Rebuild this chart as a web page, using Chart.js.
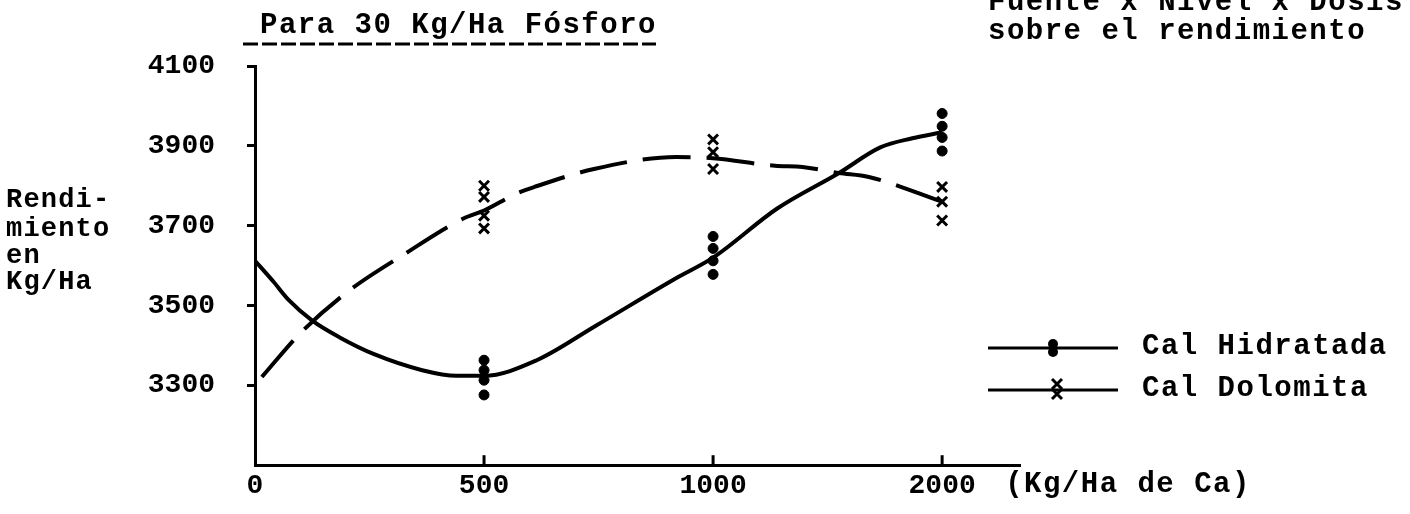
<!DOCTYPE html>
<html>
<head>
<meta charset="utf-8">
<script src="https://cdn.jsdelivr.net/npm/chart.js@4.4.1/dist/chart.umd.min.js"></script>
<style>
  html, body { margin: 0; padding: 0; background: #fff; }
  #wrap { width: 1410px; height: 514px; }
</style>
</head>
<body>
<div id="wrap"><canvas id="c" width="1410" height="514"></canvas></div>
<script>
// Dose levels (Kg/Ha de Ca), drawn at equal spacing on positions 0..3
const doseLabels = ['0', '500', '1000', '2000'];
const yTicks = [3300, 3500, 3700, 3900, 4100];

// Fitted response curve, Cal Hidratada (position on dose axis, yield)
const hidCurvePos = [0.00, 0.08, 0.15, 0.25, 0.37, 0.52, 0.73, 0.88, 1.00, 1.23, 1.49, 1.84, 2.00, 2.28, 2.55, 2.73, 2.87, 3.00];
const hidCurveVal = [3612, 3560, 3512, 3462, 3420, 3378, 3338, 3324, 3324, 3363, 3450, 3569, 3620, 3743, 3832, 3896, 3919, 3934];

// Fitted response curve, Cal Dolomita
const dolCurvePos = [0.03, 0.20, 0.41, 0.65, 0.91, 1.00, 1.14, 1.22, 1.48, 1.84, 2.00, 2.27, 2.39, 2.55, 2.68, 3.00];
const dolCurveVal = [3321, 3432, 3537, 3628, 3718, 3738, 3780, 3797, 3842, 3872, 3869, 3850, 3847, 3832, 3822, 3760];

// Observed yields per dose
const hidObs500 = [3363, 3338, 3313, 3276];
const hidObs1000 = [3673, 3643, 3612, 3578];
const hidObs2000 = [3981, 3949, 3921, 3887];
const dolObs500 = [3800, 3772, 3725, 3693];
const dolObs1000 = [3916, 3884, 3842];
const dolObs2000 = [3797, 3760, 3713];

const titleText = 'Para 30 Kg/Ha Fósforo';
const noteLines = ['Fuente x Nivel x Dosis', 'sobre el rendimiento'];
const yTitleLines = ['Rendi-', 'miento', 'en', 'Kg/Ha'];
const xUnitText = '(Kg/Ha de Ca)';

const FONT = '"Liberation Mono", "DejaVu Sans Mono", monospace';

function pairs(xs, ys) { return xs.map((x, i) => ({ x, y: ys[i] })); }
function obs(pos, vals) { return vals.map(v => ({ x: pos, y: v })); }

const hidPoints = [].concat(obs(1, hidObs500), obs(2, hidObs1000), obs(3, hidObs2000));
const dolPoints = [].concat(obs(1, dolObs500), obs(2, dolObs1000), obs(3, dolObs2000));

// Text, x-axis ticks and the legend drawn onto the canvas
const annotations = {
  id: 'annotations',
  afterDraw(chart) {
    const ctx = chart.ctx;
    const xs = chart.scales.x;
    const area = chart.chartArea;
    ctx.save();
    ctx.fillStyle = '#000';
    ctx.strokeStyle = '#000';
    ctx.textBaseline = 'middle';
    ctx.textAlign = 'left';

    // upward tick marks on the dose axis
    ctx.lineWidth = 3;
    for (let i = 1; i < doseLabels.length; i++) {
      const px = xs.getPixelForValue(i);
      ctx.beginPath();
      ctx.moveTo(px, area.bottom);
      ctx.lineTo(px, area.bottom - 10);
      ctx.stroke();
    }

    ctx.font = 'bold 29px ' + FONT;
    ctx.letterSpacing = '1.5px';

    // title with typed underline
    ctx.fillText(titleText, 260, 26);
    ctx.lineWidth = 3;
    ctx.setLineDash([15, 4]);
    ctx.beginPath();
    ctx.moveTo(243, 44);
    ctx.lineTo(656, 44);
    ctx.stroke();
    ctx.setLineDash([]);

    // note in the upper right
    ctx.fillText(noteLines[0], 988, 3);
    ctx.fillText(noteLines[1], 988, 32);

    // unit after the last dose label
    ctx.fillText(xUnitText, xs.getPixelForValue(3) + 63, 485);

    // y-axis title
    ctx.font = 'bold 27px ' + FONT;
    ctx.letterSpacing = '1.2px';
    const yRows = [200, 229, 256, 282];
    yTitleLines.forEach((t, i) => ctx.fillText(t, 6, yRows[i]));

    // legend
    ctx.font = 'bold 29px ' + FONT;
    ctx.letterSpacing = '1.5px';
    const rows = [{ y: 348, ds: 0 }, { y: 390, ds: 1 }];
    rows.forEach(r => {
      const ds = chart.data.datasets[r.ds];
      ctx.lineWidth = 3;
      ctx.beginPath();
      ctx.moveTo(988, r.y);
      ctx.lineTo(1118, r.y);
      ctx.stroke();
      if (r.ds === 0) {
        ctx.beginPath(); ctx.arc(1053, r.y - 4, 5, 0, Math.PI * 2); ctx.fill();
        ctx.beginPath(); ctx.arc(1053, r.y + 4, 5, 0, Math.PI * 2); ctx.fill();
      } else {
        ctx.lineWidth = 3;
        [-6, 4].forEach(dy => {
          ctx.beginPath();
          ctx.moveTo(1052, r.y + dy - 5); ctx.lineTo(1062, r.y + dy + 5);
          ctx.moveTo(1062, r.y + dy - 5); ctx.lineTo(1052, r.y + dy + 5);
          ctx.stroke();
        });
      }
      ctx.fillText(ds.label, 1142, r.y - 1);
    });
    ctx.restore();
  }
};

new Chart(document.getElementById('c'), {
  type: 'scatter',
  data: {
    datasets: [
      {
        label: 'Cal Hidratada',
        data: pairs(hidCurvePos, hidCurveVal),
        showLine: true,
        borderColor: '#000',
        borderWidth: 4,
        pointRadius: 0,
        cubicInterpolationMode: 'monotone'
      },
      {
        label: 'Cal Dolomita',
        data: pairs(dolCurvePos, dolCurveVal),
        showLine: true,
        borderColor: '#000',
        borderWidth: 4,
        borderDash: [48, 16],
        pointRadius: 0,
        cubicInterpolationMode: 'monotone'
      },
      {
        label: 'Cal Hidratada obs',
        data: hidPoints,
        pointStyle: 'circle',
        pointRadius: 5,
        backgroundColor: '#000',
        borderColor: '#000',
        borderWidth: 1
      },
      {
        label: 'Cal Dolomita obs',
        data: dolPoints,
        pointStyle: 'crossRot',
        pointRadius: 7,
        borderColor: '#000',
        borderWidth: 3
      }
    ]
  },
  options: {
    responsive: false,
    animation: false,
    layout: { padding: { left: 0, right: 390, top: 66, bottom: 0 } },
    plugins: {
      legend: { display: false },
      tooltip: { enabled: false },
      title: { display: false }
    },
    scales: {
      x: {
        type: 'linear',
        min: 0,
        max: 3.34,
        afterBuildTicks: s => { s.ticks = doseLabels.map((_, i) => ({ value: i })); },
        afterFit: s => { s.height = 45; },
        grid: { display: false },
        border: { display: true, color: '#000', width: 3 },
        ticks: {
          color: '#000',
          padding: -4,
          maxRotation: 0,
          autoSkip: false,
          font: { family: FONT, size: 28, weight: 'bold' },
          callback: v => doseLabels[v]
        }
      },
      y: {
        type: 'linear',
        min: 3100,
        max: 4100,
        afterBuildTicks: s => { s.ticks = yTicks.map(v => ({ value: v })); },
        afterFit: s => { s.width = 255; },
        grid: {
          display: true,
          drawOnChartArea: false,
          drawTicks: true,
          tickLength: 8,
          lineWidth: 3,
          color: '#000'
        },
        border: { display: true, color: '#000', width: 3 },
        ticks: {
          color: '#000',
          padding: 32,
          autoSkip: false,
          font: { family: FONT, size: 28, weight: 'bold' },
          callback: v => String(v)
        }
      }
    }
  },
  plugins: [annotations]
});
</script>
</body>
</html>
